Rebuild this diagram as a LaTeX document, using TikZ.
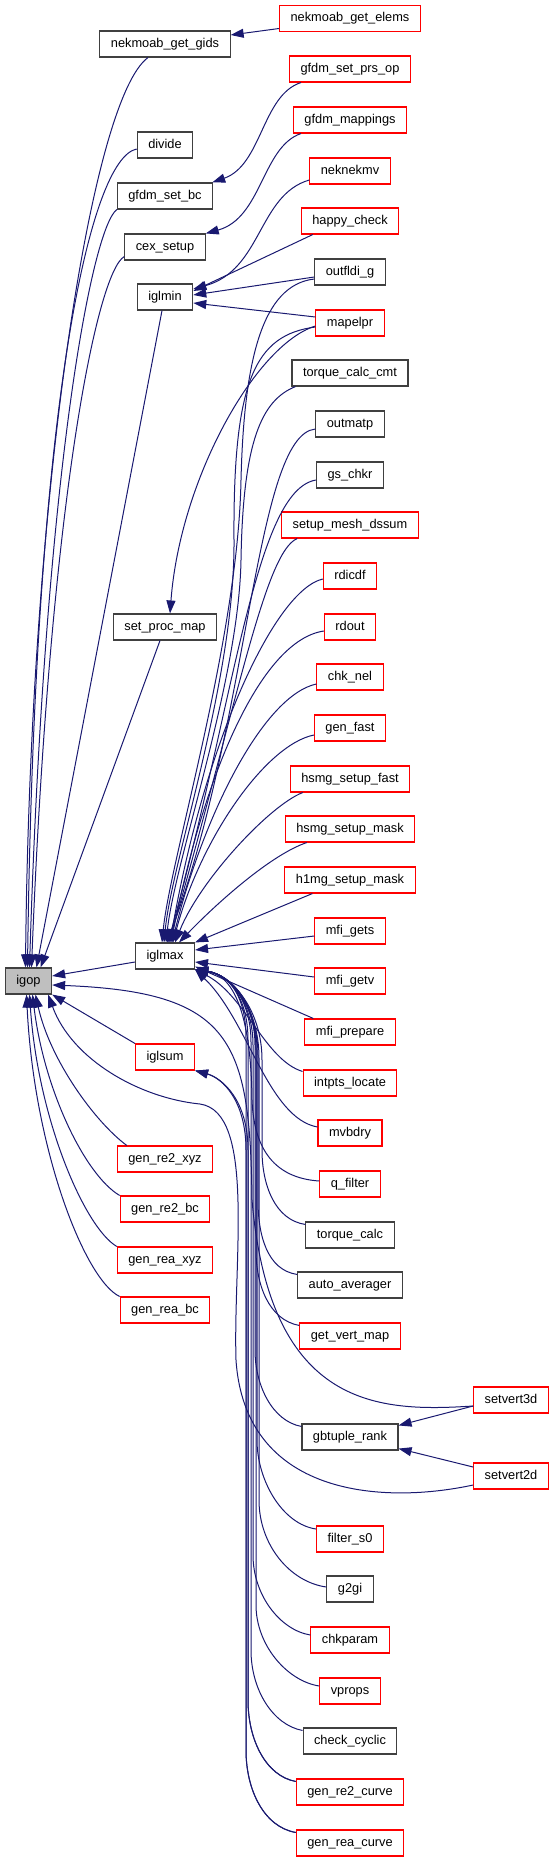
\documentclass[tikz,border=0pt]{standalone}
\usepackage{fontspec}
\setmainfont{Liberation Sans}
\usepackage{tikz}
\usetikzlibrary{arrows.meta}
\definecolor{edgeblue}{HTML}{191970}
\definecolor{boxgray}{HTML}{404040}
\definecolor{rootfill}{HTML}{BFBFBF}

\begin{document}
\begin{tikzpicture}[x=1pt, y=-1pt,
  fn/.style={draw=boxgray, fill=white, line width=1.1pt, minimum height=26pt, inner xsep=11pt, inner ysep=0pt,
             text height=9pt, text depth=3pt, font=\fontsize{12.8}{15}\selectfont},
  fnred/.style={fn, draw=red},
  fnroot/.style={fn, fill=rootfill},
  call/.style={edgeblue, line width=1pt, -{Triangle[length=13pt,width=9pt]}}]
\useasboundingbox (0,0) rectangle (551,1861);

\node[fnroot] (igop) at (28.5,981) {igop};

\node[fn] (gids) at (165,44) {nekmoab\_get\_gids};
\node[fn] (divide) at (165,145) {divide};
\node[fn] (gfdmbc) at (165,196) {gfdm\_set\_bc};
\node[fn] (cexsetup) at (165,247) {cex\_setup};
\node[fn] (iglmin) at (165,297) {iglmin};
\node[fn] (setprocmap) at (165,627) {set\_proc\_map};
\node[fn] (iglmax) at (165,956) {iglmax};
\node[fnred] (iglsum) at (165,1057) {iglsum};
\node[fnred] (genretwoxyz) at (165,1159) {gen\_re2\_xyz};
\node[fnred] (genretwobc) at (165,1209) {gen\_re2\_bc};
\node[fnred] (genreaxyz) at (165,1260) {gen\_rea\_xyz};
\node[fnred] (genreabc) at (165,1310) {gen\_rea\_bc};

\node[fnred] (elems) at (350,18.5) {nekmoab\_get\_elems};
\node[fnred] (prsop) at (350,69) {gfdm\_set\_prs\_op};
\node[fnred] (mappings) at (350,120) {gfdm\_mappings};
\node[fnred] (neknekmv) at (350,171) {neknekmv};
\node[fnred] (happy) at (350,221) {happy\_check};
\node[fn] (outfldi) at (350,272) {outfldi\_g};
\node[fnred] (mapelpr) at (350,323) {mapelpr};
\node[fn] (tcalccmt) at (350,373) {torque\_calc\_cmt};
\node[fn] (outmatp) at (350,424) {outmatp};
\node[fn] (gschkr) at (350,475) {gs\_chkr};
\node[fnred] (meshdssum) at (350,525) {setup\_mesh\_dssum};
\node[fnred] (rdicdf) at (350,576) {rdicdf};
\node[fnred] (rdout) at (350,627) {rdout};
\node[fnred] (chknel) at (350,677) {chk\_nel};
\node[fnred] (genfast) at (350,728) {gen\_fast};
\node[fnred] (hsmgfast) at (350,779) {hsmg\_setup\_fast};
\node[fnred] (hsmgmask) at (350,829) {hsmg\_setup\_mask};
\node[fnred] (honemask) at (350,880) {h1mg\_setup\_mask};
\node[fnred] (mfigets) at (350,931) {mfi\_gets};
\node[fnred] (mfigetv) at (350,981) {mfi\_getv};
\node[fnred] (mfiprep) at (350,1032) {mfi\_prepare};
\node[fnred] (intpts) at (350,1083) {intpts\_locate};
\node[fnred] (mvbdry) at (350,1133) {mvbdry};
\node[fnred] (qfilter) at (350,1184) {q\_filter};
\node[fn] (tcalc) at (350,1235) {torque\_calc};
\node[fn] (autoavg) at (350,1285) {auto\_averager};
\node[fnred] (getvert) at (350,1336) {get\_vert\_map};
\node[fn] (gbtuple) at (350,1437) {gbtuple\_rank};
\node[fnred] (filters) at (350,1539) {filter\_s0};
\node[fn] (gtwogi) at (350,1589) {g2gi};
\node[fnred] (chkparam) at (350,1640) {chkparam};
\node[fnred] (vprops) at (350,1691) {vprops};
\node[fn] (checkcyc) at (350,1741) {check\_cyclic};
\node[fnred] (retwocurve) at (350,1792) {gen\_re2\_curve};
\node[fnred] (reacurve) at (350,1843) {gen\_rea\_curve};

\node[fnred] (svthree) at (511,1400) {setvert3d};
\node[fnred] (svtwo) at (511,1476) {setvert2d};

\draw[call] ([xshift=-17pt]gids.south) .. controls (90,100) and (30,500) .. ([xshift=-3pt]igop.north);
\draw[call] ([yshift=-4pt]divide.west) .. controls (90,158) and (35,400) .. ([xshift=-1pt]igop.north);
\draw[call] (gfdmbc.south west) .. controls (92,228) and (45,470) .. ([xshift=1pt]igop.north);
\draw[call] ([yshift=4pt]cexsetup.south west) .. controls (97,272) and (50,500) .. ([xshift=3pt]igop.north);
\draw[call] ([xshift=-3pt]iglmin.south) -- ([xshift=8pt]igop.north);
\draw[call] ([xshift=-5pt]setprocmap.south) -- ([xshift=12pt]igop.north);
\draw[call] ([yshift=-6pt]iglmax.west) -- ([yshift=5pt]igop.east);
\draw[call] (iglsum.north west) -- (igop.south east);
\draw[call] ([xshift=10pt]genretwoxyz.north west) .. controls (95,1122) and (50,1060) .. ([xshift=7pt]igop.south);
\draw[call] (genretwobc.north west) .. controls (85,1175) and (44,1090) .. ([xshift=4pt]igop.south);
\draw[call] (genreaxyz.north west) .. controls (85,1228) and (38,1120) .. ([xshift=1pt]igop.south);
\draw[call] (genreabc.north west) .. controls (85,1280) and (34,1150) .. ([xshift=-2pt]igop.south);
\draw[call] ([yshift=-6pt]svthree.west) .. controls (380,1412) and (270,1410) .. (252,1200)
  .. controls (250,1040) and (232,992) .. ([yshift=-4pt]igop.east);
\draw[call] ([yshift=-9pt]svtwo.west) .. controls (380,1505) and (245,1495) .. (236,1360)
  .. controls (233,1260) and (256,1112) .. (200,1104) .. controls (140,1098) and (72,1060) .. ([xshift=-4pt]igop.south east);

\draw[call] ([yshift=-10pt]elems.west) -- ([yshift=9pt]gids.east);
\draw[call] ([xshift=12pt]prsop.south west) .. controls (262,95) and (262,165) .. ([xshift=-1pt]gfdmbc.north east);
\draw[call] ([xshift=8pt]mappings.south west) .. controls (262,147) and (262,218) .. (cexsetup.north east);
\draw[call] ([yshift=-3pt]mapelpr.west) .. controls (255,345) and (180,480) .. ([xshift=5pt]setprocmap.north);

\draw[call] ([yshift=-9pt]neknekmv.west) .. controls (258,195) and (262,270) .. ([yshift=8pt]iglmin.east);
\draw[call] ([xshift=12pt]happy.south west) -- ([yshift=6pt]iglmin.east);
\draw[call] ([yshift=-5pt]outfldi.west) -- ([yshift=2pt]iglmin.east);
\draw[call] ([yshift=6pt]mapelpr.west) -- ([yshift=-6pt]iglmin.east);

\draw[call] ([yshift=-7pt]outfldi.west) .. controls (262,285) and (244,360) .. (241,480)
  .. controls (238,640) and (170,860) .. ([xshift=-3pt]iglmax.north);
\draw[call] ([yshift=-4pt]mapelpr.west) .. controls (255,335) and (233,380) .. (234,540)
  .. controls (235,680) and (172,860) .. ([xshift=-1pt]iglmax.north);
\draw[call] ([xshift=4pt]tcalccmt.south west) .. controls (262,400) and (243,440) .. (241,560)
  .. controls (239,680) and (175,860) .. ([xshift=1pt]iglmax.north);
\draw[call] ([yshift=-5pt]outmatp.west) .. controls (255,435) and (250,720) .. ([xshift=2pt]iglmax.north);
\draw[call] ([yshift=-5pt]gschkr.west) .. controls (255,490) and (235,700) .. ([xshift=3pt]iglmax.north);
\draw[call] ([xshift=16pt]meshdssum.south west) .. controls (265,552) and (238,700) .. ([xshift=4pt]iglmax.north);
\draw[call] ([yshift=-3pt]rdicdf.west) .. controls (275,590) and (205,740) .. ([xshift=5pt]iglmax.north);
\draw[call] ([yshift=-4pt]rdout.west) .. controls (262,640) and (205,770) .. ([xshift=6pt]iglmax.north);
\draw[call] ([yshift=-7pt]chknel.west) .. controls (265,695) and (205,810) .. ([xshift=7pt]iglmax.north);
\draw[call] ([yshift=-7pt]genfast.west) .. controls (265,745) and (200,840) .. ([xshift=8pt]iglmax.north);
\draw[call] ([xshift=13pt]hsmgfast.south west) .. controls (270,805) and (200,880) .. ([xshift=10pt]iglmax.north);
\draw[call] ([xshift=22pt]hsmgmask.south west) .. controls (270,855) and (215,905) .. ([xshift=14pt]iglmax.north);
\draw[call] ([xshift=28pt]honemask.south west) -- (iglmax.north east);
\draw[call] ([yshift=-5pt]mfigets.west) -- ([yshift=6pt]iglmax.east);
\draw[call] ([yshift=4pt]mfigetv.west) -- ([yshift=-6pt]iglmax.east);
\draw[call] ([xshift=9pt]mfiprep.north west) -- ([yshift=3pt]iglmax.south east);
\draw[call] ([yshift=-2pt]intpts.north west) .. controls (265,1060) and (245,995) .. (iglmax.south east);
\draw[call] ([yshift=6pt]mvbdry.west) .. controls (268,1118) and (248,1020) .. (iglmax.south east);
\draw[call] ([yshift=3pt]qfilter.west) .. controls (275,1178) and (254,1150) .. (252,1100)
  .. controls (251,1010) and (232,975) .. (iglmax.south east);
\draw[call] ([yshift=-3pt]tcalc.north west) .. controls (275,1220) and (262,1185) .. (262,1150) -- (262,1060)
  .. controls (262,1010) and (232,975) .. (iglmax.south east);
\draw[call] ([yshift=-3pt]autoavg.north west) .. controls (267,1270) and (258,1235) .. (258,1200) -- (258,1055)
  .. controls (258,1010) and (232,975) .. (iglmax.south east);
\draw[call] ([yshift=-3pt]getvert.north west) .. controls (269,1320) and (256,1285) .. (256,1250) -- (256,1050)
  .. controls (256,1005) and (232,975) .. (iglmax.south east);
\draw[call] ([yshift=-3pt]gbtuple.north west) .. controls (272,1421) and (255,1385) .. (255,1350) -- (255,1045)
  .. controls (255,1005) and (232,975) .. (iglmax.south east);
\draw[call] ([yshift=10pt]filters.west) .. controls (282,1524) and (257,1480) .. (257,1440) -- (257,1050)
  .. controls (257,1005) and (232,975) .. (iglmax.south east);
\draw[call] ([yshift=2pt]gtwogi.west) .. controls (290,1582) and (259,1545) .. (259,1500) -- (259,1058)
  .. controls (259,1008) and (232,975) .. (iglmax.south east);
\draw[call] ([yshift=5pt]chkparam.west) .. controls (280,1630) and (253,1595) .. (253,1555) -- (253,1045)
  .. controls (253,1005) and (232,975) .. (iglmax.south east);
\draw[call] ([yshift=5pt]vprops.west) .. controls (287,1681) and (256,1645) .. (256,1605) -- (256,1048)
  .. controls (256,1005) and (232,975) .. (iglmax.south east);
\draw[call] ([yshift=-3pt]checkcyc.north west) .. controls (273,1725) and (251,1690) .. (251,1650) -- (251,1042)
  .. controls (251,1003) and (232,975) .. (iglmax.south east);
\draw[call] ([yshift=-3pt]retwocurve.north west) .. controls (266,1776) and (248,1740) .. (248,1700) -- (248,1040)
  .. controls (248,1002) and (232,975) .. (iglmax.south east);
\draw[call] ([yshift=-3pt]reacurve.north west) .. controls (264,1827) and (246,1790) .. (246,1750) -- (246,1038)
  .. controls (246,1000) and (232,975) .. (iglmax.south east);

\draw[call] ([yshift=-3pt]retwocurve.north west) .. controls (266,1776) and (248,1740) .. (248,1700) -- (248,1150)
  .. controls (248,1100) and (222,1078) .. (iglsum.south east);
\draw[call] ([yshift=-3pt]reacurve.north west) .. controls (264,1827) and (246,1790) .. (246,1750) -- (246,1150)
  .. controls (246,1100) and (222,1078) .. (iglsum.south east);

\draw[call] ([yshift=-6pt]svthree.west) -- ([yshift=-2pt]gbtuple.north east);
\draw[call] ([yshift=9pt]svtwo.west) -- ([yshift=2pt]gbtuple.south east);
\end{tikzpicture}
\end{document}
